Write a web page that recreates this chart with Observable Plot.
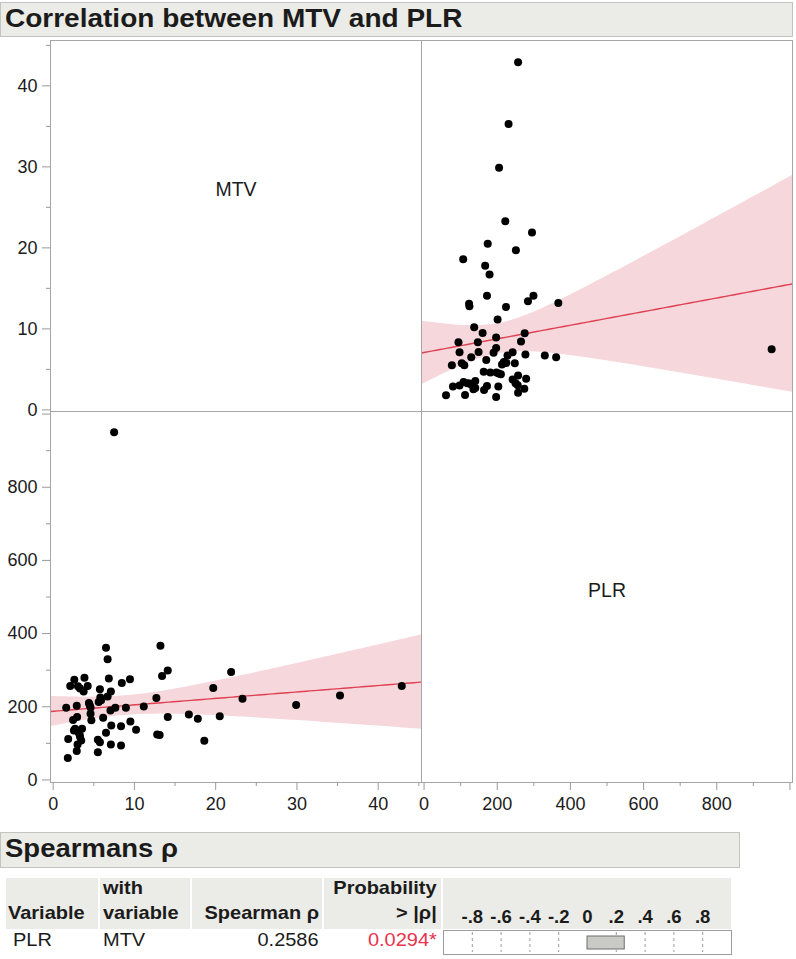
<!DOCTYPE html>
<html>
<head>
<meta charset="utf-8">
<script src="https://cdn.jsdelivr.net/npm/d3@7"></script>
<script src="https://cdn.jsdelivr.net/npm/@observablehq/plot@0.6"></script>
<style>
  body { margin: 0; background: #fff; font-family: "Liberation Sans", Arial, sans-serif; color: #1b1b1b; }
  #root { position: relative; width: 796px; height: 959px; overflow: hidden; background: #fff; }
  .hbar { position: absolute; background: #ebebe7; border: 1px solid #c3c3bf; box-sizing: border-box; }
  .sx { display: inline-block; white-space: nowrap; }
  .cell { position: absolute; background: #ebebe7; }
  svg { overflow: visible; }
</style>
</head>
<body>
<div id="root"></div>
<script>
// ---------------- data ----------------
const title = "Correlation between MTV and PLR";
const varNames = ["MTV", "PLR"];
const mtv = [7.5, 1.6, 1.8, 1.85, 2.1, 2.6, 2.45, 2.55, 2.7, 2.9,
  2.95, 3.05, 2.9, 3.0, 3.25, 3.45, 3.55, 3.85, 3.75, 4.25,
  4.4, 4.5, 4.6, 4.7, 5.5, 5.5, 5.75, 5.6, 5.75, 5.8,
  6.15, 6.5, 6.7, 6.85, 6.7, 7.1, 7.05, 7.15, 7.1, 6.5,
  7.65, 8.35, 8.35, 8.45, 8.95, 9.45, 9.5, 10.2, 11.15, 12.7,
  12.8, 13.1, 13.2, 13.4, 14.1, 14.1, 16.7, 17.8, 18.6, 19.7,
  20.5, 21.9, 23.3, 29.9, 35.3, 42.9,
  3.1, 3.3, 4.6, 5.9, 3.3];
const plr = [950, 197, 60, 112, 257, 274, 164, 135, 140, 203,
  172, 256, 79, 97, 124, 108, 140, 279, 242, 257,
  210, 204, 181, 163, 76, 110, 103, 213, 248, 225,
  170, 361, 330, 277, 228, 242, 190, 149, 97, 129,
  197, 147, 94, 265, 197, 275, 160, 137, 201, 224,
  124, 123, 367, 284, 299, 172, 179, 167, 107, 251,
  174, 295, 222, 205, 231, 257,
  130, 118, 198, 218, 250];
const mtvTicks = [0, 10, 20, 30, 40];
const mtvMinorTicks = [5, 15, 25, 35, 45];
const plrTicks = [0, 200, 400, 600, 800, 1000];
const plrTickLabels = ["0", "200", "400", "600", "800", ""];
const plrMinorTicks = [100, 300, 500, 700, 900];

const corrTitle = "Spearmans ρ";
const corrHeaders = ["Variable", "with variable", "Spearman ρ", "Probability > |ρ|"];
const corrVariable = ["PLR"];
const corrWith = ["MTV"];
const corrRho = [0.2586];
const corrProb = ["0.0294*"];
const rhoTicks = [-0.8, -0.6, -0.4, -0.2, 0, 0.2, 0.4, 0.6, 0.8];
const rhoTickLabels = ["-.8", "-.6", "-.4", "-.2", "0", ".2", ".4", ".6", ".8"];

// ---------------- style ----------------
const FONT = "Liberation Sans, Arial, sans-serif";
const frameColor = "#a6a6a6";
const tickColor = "#9a9a9a";
const textColor = "#1b1b1b";
const bandColor = "#f6d7dc";
const lineColor = "#df4152";
const mtvXDomain = [-0.33, 45.33];
const mtvYDomain = [-0.2, 45.6];
const plrDomain = [-7, 1007];
const P = 371; // panel size
const DOT_R = 4;
const TICK_FS = 18;

const root = document.getElementById("root");
const data = mtv.map((m, i) => ({mtv: m, plr: plr[i]}));

function tCrit(df) {
  const z = 1.959964;
  return z + (z ** 3 + z) / (4 * df) + (5 * z ** 5 + 16 * z ** 3 + 3 * z) / (96 * df * df);
}
function fitBand(xs, ys, domain, steps = 100) {
  const n = xs.length, mx = d3.mean(xs), my = d3.mean(ys);
  let sxx = 0, sxy = 0;
  for (let i = 0; i < n; i++) { sxx += (xs[i] - mx) ** 2; sxy += (xs[i] - mx) * (ys[i] - my); }
  const b = sxy / sxx, a = my - b * mx;
  let sse = 0;
  for (let i = 0; i < n; i++) sse += (ys[i] - a - b * xs[i]) ** 2;
  const s = Math.sqrt(sse / (n - 2)), t = tCrit(n - 2);
  return d3.range(steps + 1).map(k => {
    const x = domain[0] + (domain[1] - domain[0]) * k / steps;
    const y = a + b * x, se = s * Math.sqrt(1 / n + (x - mx) ** 2 / sxx);
    return {x, y, lo: y - t * se, hi: y + t * se};
  });
}

function place(node, left, top) {
  node.style.position = "absolute";
  node.style.left = left + "px";
  node.style.top = top + "px";
  root.appendChild(node);
  return node;
}
const baseStyle = {fontFamily: FONT, fontSize: TICK_FS + "px", color: textColor, background: "transparent", overflow: "visible"};
const axisOpts = {stroke: tickColor, fill: textColor, fontSize: TICK_FS, label: null};

// ---------- top-left: MTV label panel with MTV y axis ----------
place(Plot.plot({
  width: 50 + P, height: P, marginLeft: 50, marginRight: 0, marginTop: 0, marginBottom: 0,
  style: baseStyle,
  y: {domain: mtvYDomain, label: null},
  marks: [
    Plot.frame({stroke: frameColor}),
    Plot.text([varNames[0]], {text: d => d, frameAnchor: "middle", dy: -36, fontSize: 19.5, fill: textColor}),
    Plot.axisY(mtvTicks, {...axisOpts, tickSize: 8, tickPadding: 5}),
    Plot.axisY(mtvMinorTicks, {...axisOpts, tickSize: 4, tickFormat: () => ""})
  ]
}), 0, 40);

// ---------- top-right: PLR (x) vs MTV (y) ----------
const bandTR = fitBand(plr, mtv, plrDomain);
place(Plot.plot({
  width: P, height: P, margin: 0,
  style: baseStyle,
  x: {domain: plrDomain, axis: null, label: null},
  y: {domain: mtvYDomain, axis: null, label: null},
  marks: [
    Plot.areaY(bandTR, {x: "x", y1: "lo", y2: "hi", fill: bandColor, clip: true}),
    Plot.line(bandTR, {x: "x", y: "y", stroke: lineColor, strokeWidth: 1.4, clip: true}),
    Plot.dot(data, {x: "plr", y: "mtv", r: DOT_R, fill: "#000", stroke: "none"}),
    Plot.frame({stroke: frameColor})
  ]
}), 421, 40);

// ---------- bottom-left: MTV (x) vs PLR (y) ----------
const bandBL = fitBand(mtv, plr, mtvXDomain);
place(Plot.plot({
  width: 50 + P, height: P + 48, marginLeft: 50, marginRight: 0, marginTop: 0, marginBottom: 48,
  style: baseStyle,
  x: {domain: mtvXDomain, label: null},
  y: {domain: plrDomain, label: null},
  marks: [
    Plot.areaY(bandBL, {x: "x", y1: "lo", y2: "hi", fill: bandColor, clip: true}),
    Plot.line(bandBL, {x: "x", y: "y", stroke: lineColor, strokeWidth: 1.4, clip: true}),
    Plot.dot(data, {x: "mtv", y: "plr", r: DOT_R, fill: "#000", stroke: "none"}),
    Plot.frame({stroke: frameColor}),
    Plot.axisY(plrTicks, {...axisOpts, tickSize: 8, tickPadding: 5, tickFormat: d => plrTickLabels[plrTicks.indexOf(d)]}),
    Plot.axisY(plrMinorTicks, {...axisOpts, tickSize: 4, tickFormat: () => ""}),
    Plot.axisX(mtvTicks, {...axisOpts, tickSize: 8, tickPadding: 7}),
    Plot.axisX(mtvMinorTicks, {...axisOpts, tickSize: 4, tickFormat: () => ""})
  ]
}), 0, 411);

// ---------- bottom-right: PLR label panel with PLR x axis ----------
place(Plot.plot({
  width: P, height: P + 48, marginLeft: 0, marginRight: 0, marginTop: 0, marginBottom: 48,
  style: baseStyle,
  x: {domain: plrDomain, label: null},
  marks: [
    Plot.frame({stroke: frameColor}),
    Plot.text([varNames[1]], {text: d => d, frameAnchor: "middle", dy: -6, fontSize: 19.5, fill: textColor}),
    Plot.axisX(plrTicks, {...axisOpts, tickSize: 8, tickPadding: 7, tickFormat: d => plrTickLabels[plrTicks.indexOf(d)]}),
    Plot.axisX(plrMinorTicks, {...axisOpts, tickSize: 4, tickFormat: () => ""})
  ]
}), 421, 411);

// ---------- html text helpers ----------
function textNode(str, {size = 18, weight = "normal", color = textColor, scale = 1.1, align = "left"} = {}) {
  const d = document.createElement("div");
  d.style.font = `${weight} ${size}px ${FONT}`;
  d.style.color = color;
  d.style.whiteSpace = "nowrap";
  d.style.lineHeight = "1";
  const s = document.createElement("span");
  s.className = "sx";
  s.textContent = str;
  s.style.transform = `scaleX(${scale})`;
  s.style.transformOrigin = align === "right" ? "100% 50%" : "0 50%";
  d.appendChild(s);
  return d;
}
function box(cls, left, top, w, h) {
  const d = document.createElement("div");
  d.className = cls;
  d.style.left = left + "px"; d.style.top = top + "px";
  d.style.width = w + "px"; d.style.height = h + "px";
  root.appendChild(d);
  return d;
}
function placeText(str, x, baseline, opts = {}) {
  const size = opts.size || 18;
  const n = textNode(str, {size, ...opts});
  n.style.position = "absolute";
  n.style.top = (baseline - size * 0.905) + "px";
  if (opts.align === "right") { n.style.right = (796 - x) + "px"; n.style.textAlign = "right"; }
  else n.style.left = x + "px";
  root.appendChild(n);
  return n;
}

// ---------- title bar ----------
box("hbar", 0, 2, 793, 35);
placeText(title, 5, 29, {size: 25, weight: "bold", scale: 1.12});

// ---------- Spearman section ----------
box("hbar", 0, 832, 740, 36);
placeText(corrTitle, 5, 859, {size: 25, weight: "bold", scale: 1.1});

const cols = [[6, 92], [100, 90], [192, 130], [324, 117], [443, 288]];
cols.forEach(([l, w]) => box("cell", l, 878, w, 51));

const hdrWith = corrHeaders[1].split(" ");
const hdrProb = corrHeaders[3].split(" ");
const H = {size: 18.5, weight: "bold", scale: 1.08};
placeText(corrHeaders[0], 8, 921, H);
placeText(hdrWith[0], 103, 896, H);
placeText(hdrWith[1], 103, 921, H);
placeText(corrHeaders[2], 319, 921, {...H, align: "right"});
placeText(hdrProb[0], 437, 896, {...H, align: "right"});
placeText(hdrProb.slice(1).join(" "), 437, 921, {...H, align: "right"});

const R = {size: 18.5, scale: 1.08};
placeText(corrVariable[0], 13, 948, R);
placeText(corrWith[0], 103, 948, R);
placeText(corrRho[0].toFixed(4), 319, 948, {...R, align: "right"});
placeText(corrProb[0], 437, 948, {...R, align: "right", color: "#e8324a"});

// rho bar chart with its tick labels
place(Plot.plot({
  width: 288, height: 58, marginLeft: 0, marginRight: 0, marginTop: 32, marginBottom: 2,
  style: {...baseStyle, fontWeight: "bold"},
  x: {domain: [-1, 1], label: null},
  y: {domain: corrVariable, axis: null, label: null},
  marks: [
    Plot.frame({fill: "#fff", stroke: "#9c9c9c"}),
    Plot.ruleX(rhoTicks.filter(d => d !== 0), {stroke: "#9c9c9c", strokeDasharray: "3,3", insetTop: 2, insetBottom: 2}),
    Plot.barX(corrRho, {x1: 0, x2: d => d, y: (d, i) => corrVariable[i], fill: "#c9c9c5", stroke: "#6e6e6e", strokeWidth: 1, insetTop: 3, insetBottom: 3}),
    Plot.axisX(rhoTicks, {anchor: "top", tickSize: 0, tickPadding: 8, stroke: "none", fill: textColor, fontSize: 18.5, fontWeight: "bold", label: null,
      tickFormat: d => rhoTickLabels[rhoTicks.indexOf(d)]})
  ]
}), 443, 898);
</script>
</body>
</html>
